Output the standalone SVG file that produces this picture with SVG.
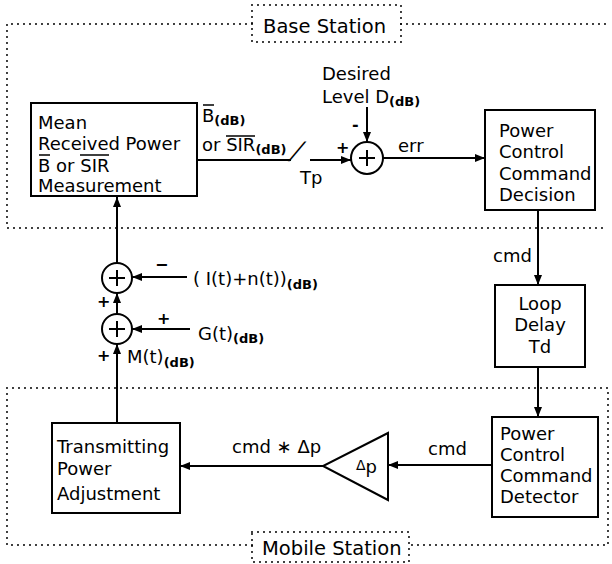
<svg xmlns="http://www.w3.org/2000/svg" width="612" height="564" viewBox="0 0 612 564">
<style>
text{font-family:"DejaVu Sans","Liberation Sans",sans-serif;font-size:18px;fill:#000}
.title{font-size:19.5px}
.sub{font-size:13px;font-weight:bold}
.sign{font-size:16px;font-weight:bold}
.box{fill:#fff;stroke:#000;stroke-width:2}
.dot{fill:none;stroke:#000;stroke-width:2;stroke-dasharray:0 6;stroke-linecap:round}
.ln{fill:none;stroke:#000;stroke-width:2}
.ol{fill:none;stroke:#000;stroke-width:1.5}
</style>
<defs>
<marker id="ah" viewBox="0 0 10 8" refX="10" refY="4" markerWidth="10" markerHeight="8" markerUnits="userSpaceOnUse" orient="auto">
<path d="M0,0 L10,4 L0,8 z" fill="#000"/>
</marker>
</defs>
<rect width="612" height="564" fill="#fff"/>

<g id="base-station">
<path class="dot" d="M401,24 H608 M252,24 H7 V228 H608"/>
<rect class="dot" x="252" y="5" width="149" height="37"/>
<text class="title" x="263" y="33">Base Station</text>
</g>
<g id="mobile-station">
<path class="dot" d="M7,388 H608 V545 H409 M252,545 H7 V388"/>
<rect class="dot" x="252" y="532" width="157" height="30"/>
<text class="title" x="262" y="555">Mobile Station</text>
</g>

<g id="connectors">
<path class="ln" d="M197,160 H291"/>
<path class="ln" d="M310,160 H351" marker-end="url(#ah)"/>
<path class="ln" d="M367,107 V142" marker-end="url(#ah)"/>
<path class="ln" d="M383,158 H485" marker-end="url(#ah)"/>
<path class="ln" d="M538,210 V285" marker-end="url(#ah)"/>
<path class="ln" d="M538,367 V417" marker-end="url(#ah)"/>
<path class="ln" d="M492,465 H388" marker-end="url(#ah)"/>
<path class="ln" d="M323,466 H180" marker-end="url(#ah)"/>
<path class="ln" d="M117,423 V344" marker-end="url(#ah)"/>
<path class="ln" d="M117,314 V293" marker-end="url(#ah)"/>
<path class="ln" d="M117,263 V197" marker-end="url(#ah)"/>
<path class="ln" d="M187,277 H132" marker-end="url(#ah)"/>
<path class="ln" d="M190,329 H132" marker-end="url(#ah)"/>
</g>

<g id="measurement">
<rect class="box" x="31" y="103" width="166" height="93"/>
<text x="38" y="129">Mean</text>
<text x="38" y="150">Received Power</text>
<text x="38" y="172">B or SIR</text>
<path class="ol" d="M39,155 H50 M80,155 H109"/>
<text x="38" y="192">Measurement</text>
</g>
<g id="meas-labels">
<text x="202" y="122">B<tspan class="sub" dy="3">(dB)</tspan></text>
<text x="202" y="151">or SIR<tspan class="sub" dy="3">(dB)</tspan></text>
<path class="ol" d="M203,105 H214 M226,136 H255"/>
<text transform="translate(289,159) skewX(-28)" style="font-size:24px">/</text>
<text x="300" y="184">Tp</text>
</g>

<g id="sum-main">
<circle class="box" cx="367" cy="158" r="16"/>
<path class="ln" d="M359,158 H375 M367,150 V166"/>
<text class="sign" x="336" y="153">+</text>
<text class="sign" x="352" y="130">-</text>
<text x="322" y="80">Desired</text>
<text x="322" y="103">Level D<tspan class="sub" dy="3">(dB)</tspan></text>
<text x="398" y="152">err</text>
</g>

<g id="decision">
<rect class="box" x="485" y="110" width="110" height="100"/>
<text x="499" y="137">Power</text>
<text x="499" y="158">Control</text>
<text x="499" y="180">Command</text>
<text x="499" y="201">Decision</text>
</g>
<text x="493" y="262">cmd</text>

<g id="loop-delay">
<rect class="box" x="495" y="285" width="90" height="82"/>
<text x="540" y="310" text-anchor="middle">Loop</text>
<text x="540" y="331" text-anchor="middle">Delay</text>
<text x="540" y="353" text-anchor="middle">Td</text>
</g>

<g id="detector">
<rect class="box" x="492" y="417" width="106" height="100"/>
<text x="500" y="440">Power</text>
<text x="500" y="461">Control</text>
<text x="500" y="482">Command</text>
<text x="500" y="503">Detector</text>
</g>
<text x="428" y="455">cmd</text>

<g id="gain">
<polygon class="box" points="388,433 388,500 323,466"/>
<text x="356" y="473"><tspan style="font-size:14px" dy="-3">Δ</tspan><tspan dy="3">p</tspan></text>
</g>
<text x="232" y="453">cmd ∗ Δp</text>

<g id="transmitting">
<rect class="box" x="52" y="423" width="128" height="90"/>
<text x="57" y="453">Transmitting</text>
<text x="57" y="475">Power</text>
<text x="57" y="500">Adjustment</text>
</g>

<g id="sum-interference">
<circle class="box" cx="117" cy="278" r="15"/>
<path class="ln" d="M109,278 H125 M117,270 V286"/>
<text class="sign" x="155" y="270">−</text>
<text x="193" y="285">( I(t)+n(t))<tspan class="sub" dy="4">(dB)</tspan></text>
</g>
<g id="sum-gain">
<circle class="box" cx="117" cy="329" r="15"/>
<path class="ln" d="M109,329 H125 M117,321 V337"/>
<text class="sign" x="157" y="324">+</text>
<text x="198" y="340">G(t)<tspan class="sub" dy="3">(dB)</tspan></text>
<text class="sign" x="97" y="307">+</text>
<text class="sign" x="97" y="361">+</text>
<text x="127" y="363">M(t)<tspan class="sub" dy="4">(dB)</tspan></text>
</g>
</svg>
